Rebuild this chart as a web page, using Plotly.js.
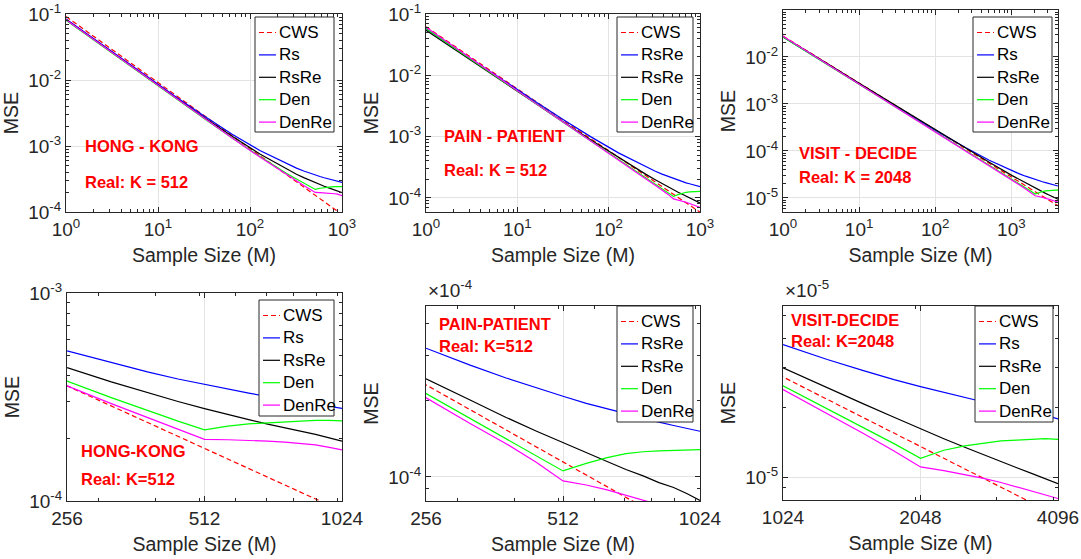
<!DOCTYPE html>
<html>
<head>
<meta charset="utf-8">
<script src="https://cdn.plot.ly/plotly-3.0.1.min.js"></script>
<style>html,body{margin:0;padding:0;background:#fff}#chart{width:1081px;height:559px}</style>
</head>
<body>
<div id="chart"></div>
<script>
// ---- data ----
const seriesNames = ['CWS', 'Rs', 'RsRe', 'Den', 'DenRe'];
const seriesNamesMid = ['CWS', 'RsRe', 'RsRe', 'Den', 'DenRe'];

// sample sizes for K = 512 data sets
const M512 = [1, 2, 4, 8, 16, 32, 64, 128, 256, 320, 384, 448, 512, 576, 640, 704, 768, 832, 896, 960, 1024];
// sample sizes for K = 2048 data set
const M2048 = [1, 2, 4, 8, 16, 32, 64, 128, 256, 512, 1024, 1280, 1536, 1792, 2048, 2304, 2560, 2816, 3072, 3328, 3584, 3840, 4096];

// HONG - KONG (K = 512)
const hkCWS   = [0.0916, 0.0458, 0.0229, 0.01145, 0.005725, 0.002863, 0.001431, 7.16e-4, 3.58e-4, 2.86e-4, 2.39e-4, 2.04e-4, 1.79e-4, 1.59e-4, 1.43e-4, 1.30e-4, 1.19e-4, 1.10e-4, 1.02e-4, 9.54e-5, 8.95e-5];
const hkRs    = [0.0842, 0.0422, 0.0212, 0.0107, 0.00545, 0.00282, 0.00151, 8.55e-4, 5.27e-4, 4.62e-4, 4.18e-4, 3.86e-4, 3.63e-4, 3.45e-4, 3.30e-4, 3.18e-4, 3.08e-4, 3.00e-4, 2.93e-4, 2.86e-4, 2.79e-4];
const hkRsRe  = [0.0821, 0.0411, 0.0206, 0.01037, 0.00524, 0.00268, 0.00140, 7.59e-4, 4.38e-4, 3.74e-4, 3.32e-4, 3.01e-4, 2.78e-4, 2.60e-4, 2.46e-4, 2.34e-4, 2.25e-4, 2.17e-4, 2.09e-4, 2.01e-4, 1.94e-4];
const hkDen   = [0.0805, 0.0403, 0.0202, 0.01011, 0.00509, 0.00258, 0.00132, 6.91e-4, 3.77e-4, 3.14e-4, 2.72e-4, 2.42e-4, 2.20e-4, 2.29e-4, 2.35e-4, 2.38e-4, 2.40e-4, 2.42e-4, 2.44e-4, 2.44e-4, 2.43e-4];
const hkDenRe = [0.0820, 0.0410, 0.0205, 0.01029, 0.00516, 0.00260, 0.00132, 6.79e-4, 3.58e-4, 2.94e-4, 2.52e-4, 2.21e-4, 1.98e-4, 1.97e-4, 1.96e-4, 1.94e-4, 1.92e-4, 1.89e-4, 1.86e-4, 1.81e-4, 1.76e-4];

// PAIN - PATIENT (K = 512)
const ppCWS   = [0.0620, 0.0305, 0.0150, 0.00745, 0.00371, 0.00184, 9.2e-4, 4.59e-4, 2.29e-4, 1.83e-4, 1.53e-4, 1.31e-4, 1.145e-4, 1.02e-4, 9.16e-5, 8.33e-5, 7.63e-5, 7.04e-5, 6.54e-5, 6.10e-5, 5.72e-5];
const ppRs    = [0.0575, 0.0288, 0.0144, 0.00726, 0.00368, 0.00189, 9.9e-4, 5.43e-4, 3.19e-4, 2.74e-4, 2.44e-4, 2.23e-4, 2.07e-4, 1.94e-4, 1.85e-4, 1.76e-4, 1.70e-4, 1.64e-4, 1.59e-4, 1.55e-4, 1.51e-4];
const ppRsRe  = [0.0545, 0.0272, 0.0136, 0.00682, 0.00342, 0.00173, 8.78e-4, 4.54e-4, 2.42e-4, 2.00e-4, 1.71e-4, 1.51e-4, 1.36e-4, 1.24e-4, 1.15e-4, 1.07e-4, 1.01e-4, 9.5e-5, 9.1e-5, 8.6e-5, 8.1e-5];
const ppDen   = [0.0580, 0.0285, 0.0139, 0.00688, 0.00342, 0.00170, 8.5e-4, 4.26e-4, 2.12e-4, 1.70e-4, 1.42e-4, 1.21e-4, 1.056e-4, 1.13e-4, 1.19e-4, 1.235e-4, 1.255e-4, 1.265e-4, 1.27e-4, 1.28e-4, 1.28e-4];
const ppDenRe = [0.0610, 0.0295, 0.0143, 0.00700, 0.00345, 0.00171, 8.5e-4, 4.2e-4, 2.04e-4, 1.62e-4, 1.35e-4, 1.14e-4, 9.65e-5, 9.3e-5, 8.9e-5, 8.5e-5, 8.1e-5, 7.8e-5, 7.5e-5, 7.2e-5, 6.9e-5];

// VISIT - DECIDE (K = 2048)
const vdCWS   = [0.0279, 0.01395, 0.00698, 0.00349, 0.001744, 8.72e-4, 4.36e-4, 2.18e-4, 1.09e-4, 5.45e-5, 2.72e-5, 2.18e-5, 1.82e-5, 1.56e-5, 1.36e-5, 1.21e-5, 1.09e-5, 9.9e-6, 9.1e-6, 8.4e-6, 7.8e-6, 7.3e-6, 6.8e-6];
const vdRs    = [0.0264, 0.0132, 0.0066, 0.0033, 0.00166, 8.37e-4, 4.24e-4, 2.18e-4, 1.15e-4, 6.34e-5, 3.76e-5, 3.24e-5, 2.90e-5, 2.65e-5, 2.47e-5, 2.33e-5, 2.21e-5, 2.12e-5, 2.04e-5, 1.97e-5, 1.92e-5, 1.86e-5, 1.79e-5];
const vdRsRe  = [0.0270, 0.0138, 0.0069, 0.00345, 0.00173, 8.7e-4, 4.38e-4, 2.20e-4, 1.12e-4, 5.71e-5, 2.98e-5, 2.44e-5, 2.08e-5, 1.82e-5, 1.62e-5, 1.47e-5, 1.35e-5, 1.25e-5, 1.17e-5, 1.10e-5, 1.04e-5, 9.9e-6, 9.4e-6];
const vdDen   = [0.0265, 0.0132, 0.0066, 0.00328, 0.00164, 8.2e-4, 4.1e-4, 2.05e-4, 1.02e-4, 5.1e-5, 2.49e-5, 1.98e-5, 1.65e-5, 1.40e-5, 1.21e-5, 1.31e-5, 1.37e-5, 1.41e-5, 1.44e-5, 1.45e-5, 1.46e-5, 1.47e-5, 1.46e-5];
const vdDenRe = [0.0275, 0.0136, 0.0067, 0.0033, 0.00164, 8.2e-4, 4.1e-4, 2.04e-4, 1.01e-4, 5.0e-5, 2.40e-5, 1.89e-5, 1.55e-5, 1.30e-5, 1.11e-5, 1.07e-5, 1.03e-5, 9.9e-6, 9.5e-6, 9.1e-6, 8.7e-6, 8.4e-6, 8.1e-6];

// ---- styling ----
const colors = ['#ff0000', '#0000ff', '#000000', '#00ff00', '#ff00ff'];
const dashes = ['5px,3px', 'solid', 'solid', 'solid', 'solid'];
const W = 1081, H = 559;
const axisCol = '#262626';
const FONT = 'Liberation Sans, Arial, Helvetica, sans-serif';

const datasets = [
  {M: M512, ys: [hkCWS, hkRs, hkRsRe, hkDen, hkDenRe], names: seriesNames},
  {M: M512, ys: [ppCWS, ppRs, ppRsRe, ppDen, ppDenRe], names: seriesNamesMid},
  {M: M2048, ys: [vdCWS, vdRs, vdRsRe, vdDen, vdDenRe], names: seriesNames}
];

// panel pixel boxes [left, right, top, bottom]
const boxes = [
  [66, 342, 14, 212], [426, 700, 14, 212], [783, 1058, 10, 212],
  [67, 342, 293, 501], [426, 700, 306, 501], [783, 1058, 306, 500]
];
// legend boxes [left, top, right, bottom]
const legBoxes = [
  [255, 17, 334, 132], [617, 17, 693, 132], [973, 17, 1052, 132],
  [259, 300, 334, 416], [617, 306, 693, 422], [975, 306, 1053, 422]
];

function sup(e) { return '10<sup>' + e + '</sup>'; }
function decadeMinor(lo, hi) {
  const out = [];
  for (let e = lo; e < hi; e++) for (let k = 2; k <= 9; k++) out.push(k * Math.pow(10, e));
  return out;
}

const axCfg = [
  {xr: [0, 3], xt: [1, 10, 100, 1000], xtt: [sup(0), sup(1), sup(2), sup(3)], xm: decadeMinor(0, 3),
   yr: [-4, -1], yt: [1e-4, 1e-3, 1e-2, 1e-1], ytt: [sup(-4), sup(-3), sup(-2), sup(-1)], ym: decadeMinor(-4, -1)},
  {xr: [0, 3], xt: [1, 10, 100, 1000], xtt: [sup(0), sup(1), sup(2), sup(3)], xm: decadeMinor(0, 3),
   yr: [-4.23, -1], yt: [1e-4, 1e-3, 1e-2, 1e-1], ytt: [sup(-4), sup(-3), sup(-2), sup(-1)], ym: decadeMinor(-5, -1)},
  {xr: [0, Math.log10(4096)], xt: [1, 10, 100, 1000], xtt: [sup(0), sup(1), sup(2), sup(3)], xm: decadeMinor(0, 4),
   yr: [-5.3, -1], yt: [1e-5, 1e-4, 1e-3, 1e-2, 1e-1], ytt: [sup(-5), sup(-4), sup(-3), sup(-2), sup(-1)], ym: decadeMinor(-6, -1)},
  {xr: [Math.log10(256), Math.log10(1024)], xt: [256, 512, 1024], xtt: ['256', '512', '1024'], xm: [300, 400, 500, 600, 700, 800, 900, 1000],
   yr: [-4, -3], yt: [1e-4, 1e-3], ytt: [sup(-4), sup(-3)], ym: decadeMinor(-4, -3)},
  {xr: [Math.log10(256), Math.log10(1024)], xt: [256, 512, 1024], xtt: ['256', '512', '1024'], xm: [300, 400, 500, 600, 700, 800, 900, 1000],
   yr: [-4.094, -3.331], yt: [1e-4], ytt: [sup(-4)], ym: [9e-5, 2e-4, 3e-4, 4e-4]},
  {xr: [Math.log10(1024), Math.log10(4096)], xt: [1024, 2048, 4096], xtt: ['1024', '2048', '4096'], xm: [2000, 3000, 4000],
   yr: [-5.098, -4.258], yt: [1e-5], ytt: [sup(-5)], ym: [9e-6, 2e-5, 3e-5, 4e-5, 5e-5]}
];

const traces = [];
const layout = {
  width: W, height: H, margin: {l: 0, r: 0, t: 0, b: 0},
  paper_bgcolor: '#ffffff', plot_bgcolor: '#ffffff',
  font: {family: FONT, color: axisCol},
  showlegend: false,
  annotations: [], shapes: []
};

for (let p = 0; p < 6; p++) {
  const d = datasets[p % 3];
  const idx = p === 0 ? '' : String(p + 1);
  for (let s = 0; s < 5; s++) {
    traces.push({
      type: 'scatter', mode: 'lines',
      x: d.M, y: d.ys[s], name: d.names[s],
      xaxis: 'x' + idx, yaxis: 'y' + idx,
      line: {color: colors[s], width: 1.2, dash: dashes[s]},
      hoverinfo: 'skip'
    });
  }
  const b = boxes[p];
  const c = axCfg[p];
  const common = {
    type: 'log', showline: true, linecolor: axisCol, linewidth: 1, mirror: 'allticks',
    ticks: 'inside', ticklen: 5, tickcolor: axisCol, tickwidth: 1,
    tickfont: {family: FONT, size: 19, color: axisCol},
    showgrid: true, gridcolor: '#e3e3e3', gridwidth: 1, zeroline: false,
    tickmode: 'array', fixedrange: true
  };
  layout['xaxis' + idx] = Object.assign({}, common, {
    domain: [b[0] / W, b[1] / W], anchor: 'y' + idx, range: c.xr,
    tickvals: c.xt, ticktext: c.xtt,
    minor: {tickmode: 'array', tickvals: c.xm, ticks: 'inside', ticklen: 3, tickcolor: axisCol, showgrid: false},
    title: {text: 'Sample Size (M)', font: {family: FONT, size: 19.5, color: axisCol}, standoff: 9}
  });
  layout['yaxis' + idx] = Object.assign({}, common, {
    domain: [1 - b[3] / H, 1 - b[2] / H], anchor: 'x' + idx, range: c.yr,
    tickvals: c.yt, ticktext: c.ytt,
    minor: {tickmode: 'array', tickvals: c.ym, ticks: 'inside', ticklen: 3, tickcolor: axisCol, showgrid: false},
    title: {text: 'MSE', font: {family: FONT, size: 19.5, color: axisCol}, standoff: 4}
  });

  // legend box (MATLAB style: short key line, text right after it)
  const lb = legBoxes[p];
  layout.shapes.push({
    type: 'rect', xref: 'paper', yref: 'paper', layer: 'above',
    x0: lb[0] / W, x1: lb[2] / W, y0: 1 - lb[1] / H, y1: 1 - lb[3] / H,
    line: {color: axisCol, width: 1}, fillcolor: '#ffffff'
  });
  for (let s = 0; s < 5; s++) {
    const yy = 1 - (lb[1] + 15.5 + s * 22.4) / H;
    layout.shapes.push({
      type: 'line', xref: 'paper', yref: 'paper', layer: 'above',
      x0: (lb[0] + 4) / W, x1: (lb[0] + 21) / W, y0: yy, y1: yy,
      line: {color: colors[s], width: 1.2, dash: dashes[s]}
    });
    layout.annotations.push({
      text: d.names[s], x: (lb[0] + 22) / W, y: yy, xref: 'paper', yref: 'paper',
      xanchor: 'left', yanchor: 'middle', showarrow: false,
      font: {family: FONT, size: 17, color: '#000000'}
    });
  }
}

// panel labels
const labels = [
  ['HONG - KONG', 83, 146], ['Real: K = 512', 83, 182],
  ['PAIN - PATIENT', 442, 136], ['Real: K = 512', 442, 170],
  ['VISIT - DECIDE', 797, 153], ['Real: K = 2048', 797, 177],
  ['HONG-KONG', 79, 451], ['Real: K=512', 79, 479],
  ['PAIN-PATIENT', 437, 324], ['Real: K=512', 437, 346],
  ['VISIT-DECIDE', 789, 320], ['Real: K=2048', 789, 341]
];
labels.forEach(l => layout.annotations.push({
  text: '<b>' + l[0] + '</b>', x: l[1] / W, y: 1 - l[2] / H, xref: 'paper', yref: 'paper',
  xanchor: 'left', yanchor: 'middle', showarrow: false,
  font: {family: FONT, size: 16.5, color: '#ff0000'}
}));
// exponent multipliers
[['×10<sup>-4</sup>', 426], ['×10<sup>-5</sup>', 783]].forEach(e => layout.annotations.push({
  text: e[0], x: e[1] / W, y: 1 - 289 / H, xref: 'paper', yref: 'paper',
  xanchor: 'left', yanchor: 'middle', showarrow: false,
  font: {family: FONT, size: 19, color: axisCol}
}));

Plotly.newPlot('chart', traces, layout, {staticPlot: true, displayModeBar: false});
</script>
</body>
</html>
